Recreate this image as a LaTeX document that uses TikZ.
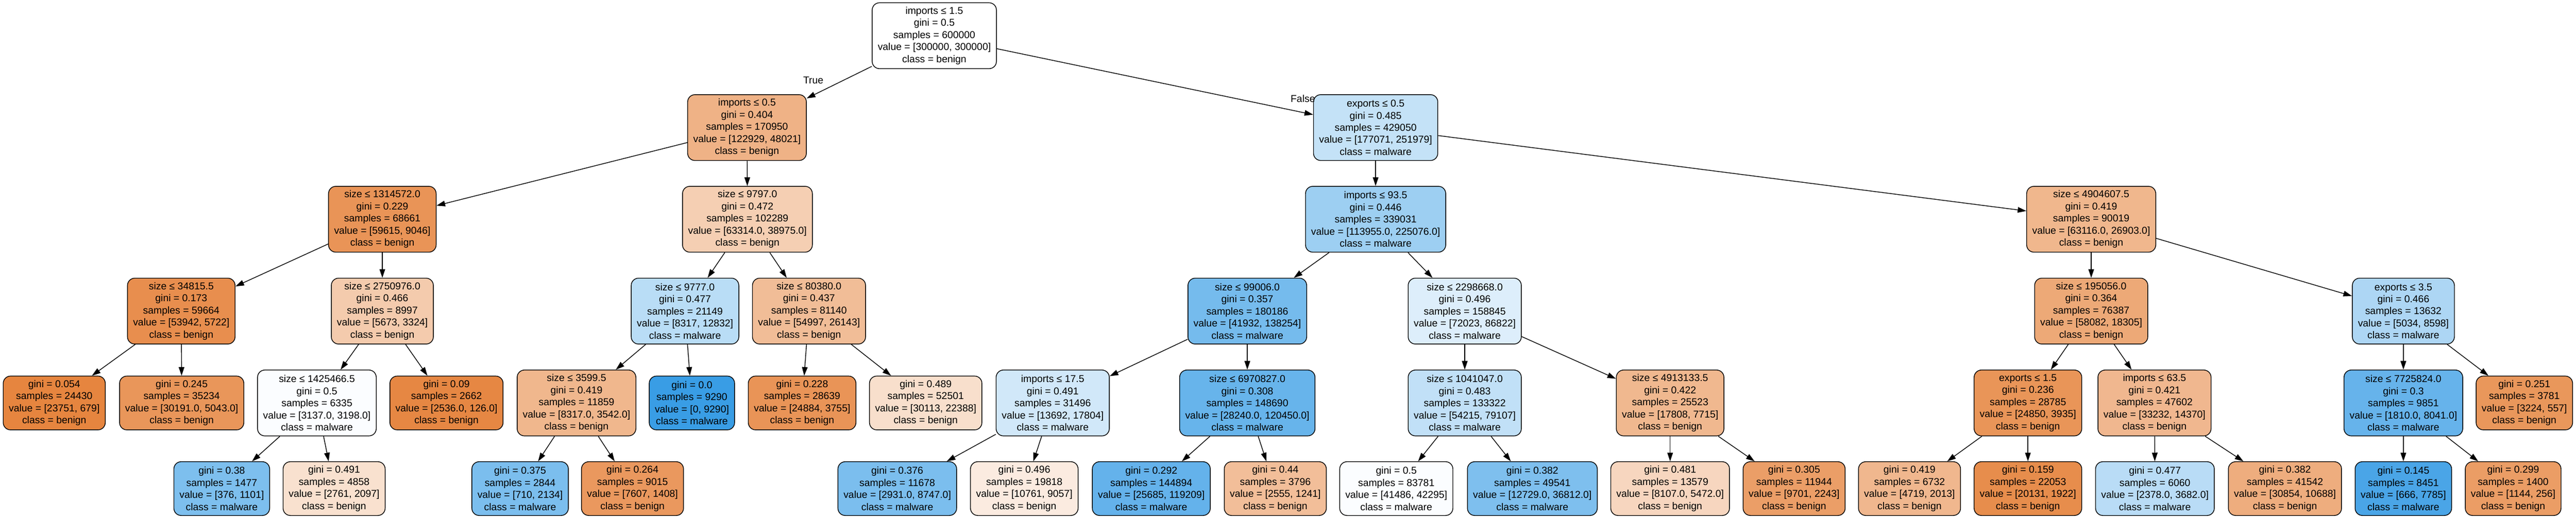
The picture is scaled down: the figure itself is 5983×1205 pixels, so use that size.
\documentclass[tikz,border=0pt]{standalone}
\usepackage{fontspec}
\setmainfont{Liberation Sans}
\usetikzlibrary{arrows.meta}
\definecolor{benign}{RGB}{229,129,57}
\definecolor{malware}{RGB}{57,157,229}
\newcommand\dtfont{\fontsize{6.6pt}{7.97pt}\selectfont}
\tikzset{
  tn/.style={draw, rounded corners=0.17cm, align=center, inner xsep=0.13cm, inner ysep=0pt,
    line width=0.017cm, minimum height=1.53cm, font=\dtfont},
  lf/.style={tn, minimum height=1.25cm},
  edge/.style={line width=0.017cm, -{Triangle[length=0.2cm,width=0.13cm]}},
  elab/.style={font=\dtfont, inner sep=0pt}
}
\begin{document}
\begin{tikzpicture}[x=0.01cm, y=-0.01cm]
\useasboundingbox (0,0) rectangle (5983,1205);
% level 0
\node[tn, fill=white] (n0) at (2170,83) {imports ≤ 1.5\\gini = 0.5\\samples = 600000\\value = [300000, 300000]\\class = benign};
% level 1
\node[tn, fill=benign!60.9!white] (n1) at (1735,296.5) {imports ≤ 0.5\\gini = 0.404\\samples = 170950\\value = [122929, 48021]\\class = benign};
\node[tn, fill=malware!29.7!white] (n2) at (3195,296.5) {exports ≤ 0.5\\gini = 0.485\\samples = 429050\\value = [177071, 251979]\\class = malware};
% level 2
\node[tn, fill=benign!84.8!white] (n3) at (888,509.5) {size ≤ 1314572.0\\gini = 0.229\\samples = 68661\\value = [59615, 9046]\\class = benign};
\node[tn, fill=benign!38.4!white] (n4) at (1736,509.5) {size ≤ 9797.0\\gini = 0.472\\samples = 102289\\value = [63314.0, 38975.0]\\class = benign};
\node[tn, fill=malware!49.4!white] (n5) at (3195,509.5) {imports ≤ 93.5\\gini = 0.446\\samples = 339031\\value = [113955.0, 225076.0]\\class = malware};
\node[tn, fill=benign!57.4!white] (n6) at (4857,509.5) {size ≤ 4904607.5\\gini = 0.419\\samples = 90019\\value = [63116.0, 26903.0]\\class = benign};
% level 3
\node[tn, fill=benign!89.4!white] (n7) at (421,723) {size ≤ 34815.5\\gini = 0.173\\samples = 59664\\value = [53942, 5722]\\class = benign};
\node[tn, fill=benign!41.4!white] (n8) at (888,723) {size ≤ 2750976.0\\gini = 0.466\\samples = 8997\\value = [5673, 3324]\\class = benign};
\node[tn, fill=malware!35.2!white] (n9) at (1591,723) {size ≤ 9777.0\\gini = 0.477\\samples = 21149\\value = [8317, 12832]\\class = malware};
\node[tn, fill=benign!52.5!white] (n10) at (1879,723) {size ≤ 80380.0\\gini = 0.437\\samples = 81140\\value = [54997, 26143]\\class = benign};
\node[tn, fill=malware!69.7!white] (n11) at (2897,723) {size ≤ 99006.0\\gini = 0.357\\samples = 180186\\value = [41932, 138254]\\class = malware};
\node[tn, fill=malware!17.0!white] (n12) at (3402,723) {size ≤ 2298668.0\\gini = 0.496\\samples = 158845\\value = [72023, 86822]\\class = malware};
\node[tn, fill=benign!68.5!white] (n13) at (4857,723) {size ≤ 195056.0\\gini = 0.364\\samples = 76387\\value = [58082, 18305]\\class = benign};
\node[tn, fill=malware!41.5!white] (n14) at (5582,723) {exports ≤ 3.5\\gini = 0.466\\samples = 13632\\value = [5034, 8598]\\class = malware};
% level 4
\node[lf, fill=benign!97.1!white] (n15) at (126,936.5) {gini = 0.054\\samples = 24430\\value = [23751, 679]\\class = benign};
\node[lf, fill=benign!83.3!white] (n16) at (422,936.5) {gini = 0.245\\samples = 35234\\value = [30191.0, 5043.0]\\class = benign};
\node[tn, fill=malware!1.9!white] (n17) at (736,936.5) {size ≤ 1425466.5\\gini = 0.5\\samples = 6335\\value = [3137.0, 3198.0]\\class = malware};
\node[lf, fill=benign!95.0!white] (n18) at (1037,936.5) {gini = 0.09\\samples = 2662\\value = [2536.0, 126.0]\\class = benign};
\node[tn, fill=benign!57.4!white] (n19) at (1339,936.5) {size ≤ 3599.5\\gini = 0.419\\samples = 11859\\value = [8317.0, 3542.0]\\class = benign};
\node[lf, fill=malware] (n20) at (1607,936.5) {gini = 0.0\\samples = 9290\\value = [0, 9290]\\class = malware};
\node[lf, fill=benign!84.9!white] (n21) at (1863,936.5) {gini = 0.228\\samples = 28639\\value = [24884, 3755]\\class = benign};
\node[lf, fill=benign!25.7!white] (n22) at (2150,936.5) {gini = 0.489\\samples = 52501\\value = [30113, 22388]\\class = benign};
\node[tn, fill=malware!23.1!white] (n23) at (2445,936.5) {imports ≤ 17.5\\gini = 0.491\\samples = 31496\\value = [13692, 17804]\\class = malware};
\node[tn, fill=malware!76.6!white] (n24) at (2897,936.5) {size ≤ 6970827.0\\gini = 0.308\\samples = 148690\\value = [28240.0, 120450.0]\\class = malware};
\node[tn, fill=malware!31.5!white] (n25) at (3402,936.5) {size ≤ 1041047.0\\gini = 0.483\\samples = 133322\\value = [54215, 79107]\\class = malware};
\node[tn, fill=benign!56.7!white] (n26) at (3879,936.5) {size ≤ 4913133.5\\gini = 0.422\\samples = 25523\\value = [17808, 7715]\\class = benign};
\node[tn, fill=benign!84.2!white] (n27) at (4710,936.5) {exports ≤ 1.5\\gini = 0.236\\samples = 28785\\value = [24850, 3935]\\class = benign};
\node[tn, fill=benign!56.8!white] (n28) at (5004,936.5) {imports ≤ 63.5\\gini = 0.421\\samples = 47602\\value = [33232, 14370]\\class = benign};
\node[tn, fill=malware!77.5!white] (n29) at (5582,936.5) {size ≤ 7725824.0\\gini = 0.3\\samples = 9851\\value = [1810.0, 8041.0]\\class = malware};
\node[lf, fill=benign!82.7!white] (n30) at (5863,936.5) {gini = 0.251\\samples = 3781\\value = [3224, 557]\\class = benign};
% level 5
\node[lf, fill=malware!65.8!white] (n31) at (515,1135.5) {gini = 0.38\\samples = 1477\\value = [376, 1101]\\class = malware};
\node[lf, fill=benign!24.0!white] (n32) at (776,1135.5) {gini = 0.491\\samples = 4858\\value = [2761, 2097]\\class = benign};
\node[lf, fill=malware!66.7!white] (n33) at (1208,1135.5) {gini = 0.375\\samples = 2844\\value = [710, 2134]\\class = malware};
\node[lf, fill=benign!81.5!white] (n34) at (1469,1135.5) {gini = 0.264\\samples = 9015\\value = [7607, 1408]\\class = benign};
\node[lf, fill=malware!66.5!white] (n35) at (2084,1135.5) {gini = 0.376\\samples = 11678\\value = [2931.0, 8747.0]\\class = malware};
\node[lf, fill=benign!15.8!white] (n36) at (2379,1135.5) {gini = 0.496\\samples = 19818\\value = [10761, 9057]\\class = benign};
\node[lf, fill=malware!78.5!white] (n37) at (2674,1135.5) {gini = 0.292\\samples = 144894\\value = [25685, 119209]\\class = malware};
\node[lf, fill=benign!51.4!white] (n38) at (2962,1135.5) {gini = 0.44\\samples = 3796\\value = [2555, 1241]\\class = benign};
\node[lf, fill=malware!1.9!white] (n39) at (3243,1135.5) {gini = 0.5\\samples = 83781\\value = [41486, 42295]\\class = malware};
\node[lf, fill=malware!65.4!white] (n40) at (3559,1135.5) {gini = 0.382\\samples = 49541\\value = [12729.0, 36812.0]\\class = malware};
\node[lf, fill=benign!32.5!white] (n41) at (3879,1135.5) {gini = 0.481\\samples = 13579\\value = [8107.0, 5472.0]\\class = benign};
\node[lf, fill=benign!76.9!white] (n42) at (4167,1135.5) {gini = 0.305\\samples = 11944\\value = [9701, 2243]\\class = benign};
\node[lf, fill=benign!57.3!white] (n43) at (4435,1135.5) {gini = 0.419\\samples = 6732\\value = [4719, 2013]\\class = benign};
\node[lf, fill=benign!90.5!white] (n44) at (4710,1135.5) {gini = 0.159\\samples = 22053\\value = [20131, 1922]\\class = benign};
\node[lf, fill=malware!35.4!white] (n45) at (5005,1135.5) {gini = 0.477\\samples = 6060\\value = [2378.0, 3682.0]\\class = malware};
\node[lf, fill=benign!65.4!white] (n46) at (5307,1135.5) {gini = 0.382\\samples = 41542\\value = [30854, 10688]\\class = benign};
\node[lf, fill=malware!91.4!white] (n47) at (5582,1135.5) {gini = 0.145\\samples = 8451\\value = [666, 7785]\\class = malware};
\node[lf, fill=benign!77.6!white] (n48) at (5837,1135.5) {gini = 0.299\\samples = 1400\\value = [1144, 256]\\class = benign};
% edge labels
\node[elab] (lt) at (1889,187) {True};
\node[elab] (lfz) at (3026,229) {False};
% edges
\foreach \a/\b in {n0/n1,n0/n2,n1/n3,n1/n4,n2/n5,n2/n6,n3/n7,n3/n8,n4/n9,n4/n10,
  n5/n11,n5/n12,n6/n13,n6/n14,n7/n15,n7/n16,n8/n17,n8/n18,n9/n19,n9/n20,
  n10/n21,n10/n22,n11/n23,n11/n24,n12/n25,n12/n26,n13/n27,n13/n28,n14/n29,n14/n30,
  n17/n31,n17/n32,n19/n33,n19/n34,n23/n35,n23/n36,n24/n37,n24/n38,n25/n39,n25/n40,
  n26/n41,n26/n42,n27/n43,n27/n44,n28/n45,n28/n46,n29/n47,n29/n48}
  \draw[edge] (\a) -- (\b);
\end{tikzpicture}
\end{document}
